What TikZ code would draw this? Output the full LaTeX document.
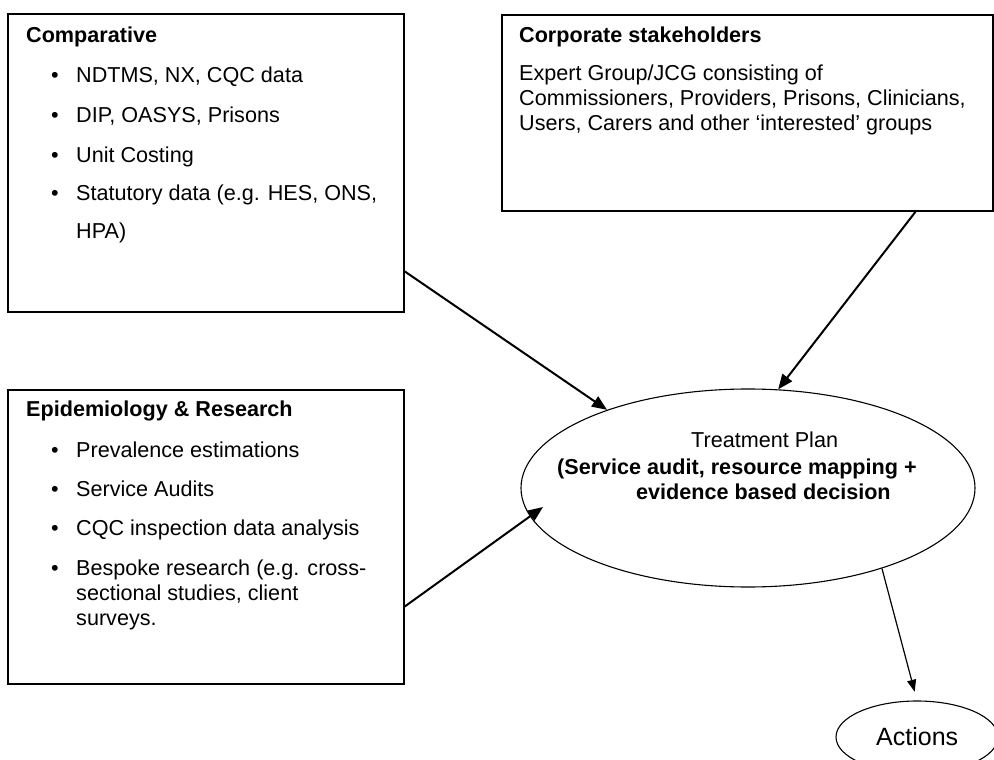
\documentclass[tikz,border=0pt]{standalone}
\usepackage{fontspec}
\setmainfont{Liberation Sans}
\usetikzlibrary{arrows.meta,shapes.geometric,calc}
\begin{document}
\begin{tikzpicture}[x=1pt,y=-1pt,
  box/.style={draw=black,line width=1.6pt,inner sep=0pt},
  oval/.style={draw=black,ellipse,line width=1.1pt,inner sep=0pt},
  txt/.style={anchor=base west,inner sep=0pt,font=\fontsize{21.6}{26}\selectfont},
  hd/.style={anchor=base west,inner sep=0pt,font=\fontsize{21.6}{26}\selectfont\bfseries},
  conn/.style={line width=2pt,-{Triangle[length=15pt,width=12pt]}},
  thinconn/.style={line width=1.2pt,-{Triangle[length=12pt,width=9pt]}},
]
\useasboundingbox (0,0) rectangle (994,760);
\clip (0,0) rectangle (994,760);

% boxes
\node[box,minimum width=396pt,minimum height=298pt] (comp) at (206,163) {};
\node[box,minimum width=491pt,minimum height=196pt] (corp) at (747.5,113) {};
\node[box,minimum width=396pt,minimum height=294pt] (epi) at (206,537) {};
\node[oval,minimum width=454pt,minimum height=198pt] (tp) at (748,488) {};
\node[oval,minimum width=162pt,minimum height=72pt] (act) at (917,737) {};

% Comparative
\node[hd] (compH) at (26,43) {Comparative};
\node[txt] (cb1) at (51,82) {•};
\node[txt] (ct1) at (76,82) {NDTMS, NX, CQC data};
\node[txt] (cb2) at (51,122) {•};
\node[txt] (ct2) at (76,122) {DIP, OASYS, Prisons};
\node[txt] (cb3) at (51,162) {•};
\node[txt] (ct3) at (76,162) {Unit Costing};
\node[txt] (cb4) at (51,200) {•};
\node[txt] (ct4) at (76,200) {Statutory data (e.g. HES, ONS,};
\node[txt] (ct5) at (76,238) {HPA)};

% Corporate
\node[hd] (corpH) at (519,43) {Corporate stakeholders};
\node[txt] (co1) at (519,81) {Expert Group/JCG consisting of};
\node[txt] (co2) at (519,106) {Commissioners, Providers, Prisons, Clinicians,};
\node[txt] (co3) at (519,130) {Users, Carers and other ‘interested’ groups};

% Epidemiology
\node[hd] (epiH) at (26,416) {Epidemiology \& Research};
\node[txt] (eb1) at (51,457) {•};
\node[txt] (et1) at (76,457) {Prevalence estimations};
\node[txt] (eb2) at (51,496) {•};
\node[txt] (et2) at (76,496) {Service Audits};
\node[txt] (eb3) at (51,535) {•};
\node[txt] (et3) at (76,535) {CQC inspection data analysis};
\node[txt] (eb4) at (51,575) {•};
\node[txt] (et4) at (76,575) {Bespoke research (e.g. cross-};
\node[txt] (et5) at (76,600) {sectional studies, client};
\node[txt] (et6) at (76,625) {surveys.};

% Treatment plan
\node[txt] (tp1) at (691,447) {Treatment Plan};
\node[hd] (tp2) at (557,474) {(Service audit, resource mapping +};
\node[hd] (tp3) at (636,499) {evidence based decision};

% Actions
\node[anchor=base west,inner sep=0pt,font=\fontsize{25}{30}\selectfont] (actT) at (876,745) {Actions};

% connectors
\draw[conn] ($(comp.north east)!0.862!(comp.south east)$) -- (tp.151.9);
\draw[conn] ($(corp.south west)!0.841!(corp.south east)$) -- (tp.73.5);
\draw[conn] ($(epi.north east)!0.735!(epi.south east)$) -- ($(tp.center)+(-205,19)$);
\draw[thinconn,shorten >=9pt] (tp.329.2) -- (act.north);
\end{tikzpicture}
\end{document}
